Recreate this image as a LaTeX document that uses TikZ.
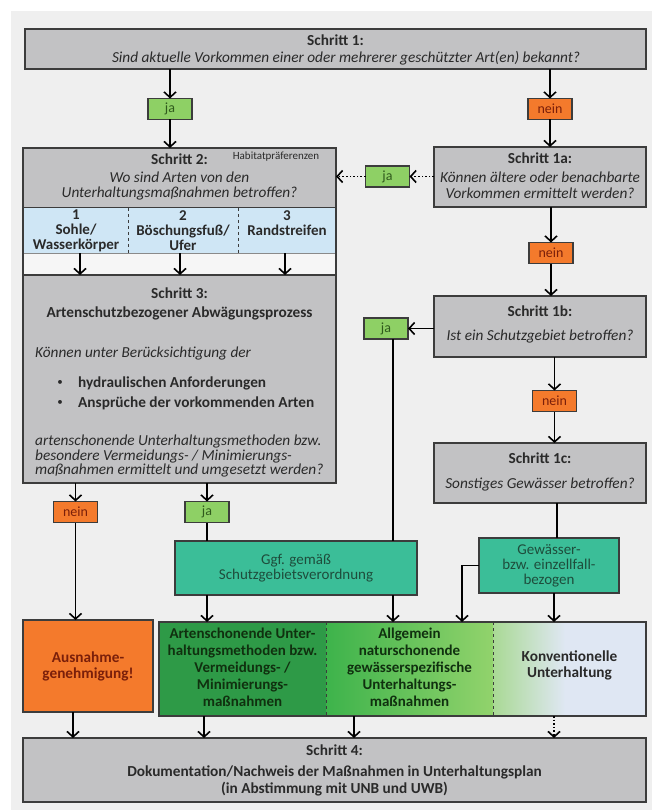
\documentclass[tikz,border=0pt]{standalone}
\usepackage{fontspec}
\setmainfont{Carlito}
\usetikzlibrary{arrows.meta,calc}
\definecolor{panel}{HTML}{EFEFEF}
\definecolor{gboxc}{HTML}{C2C2C4}
\definecolor{edge}{HTML}{3C3C3C}
\definecolor{txt}{HTML}{2A2A2A}
\definecolor{bluecell}{HTML}{CFE6F5}
\definecolor{whiterow}{HTML}{F6F6F6}
\definecolor{jagreen}{HTML}{8ED065}
\definecolor{jatxt}{HTML}{2F5A1C}
\definecolor{neinor}{HTML}{F47A2C}
\definecolor{neintxt}{HTML}{7A1F0A}
\definecolor{tealbox}{HTML}{3BBE98}
\definecolor{tealtxt}{HTML}{1E4D3C}
\definecolor{dkgreen}{HTML}{2E9A47}
\definecolor{mdgreen}{HTML}{3DB34B}
\definecolor{ltgreen}{HTML}{92D36C}
\definecolor{paleblue}{HTML}{DFE7F3}
\definecolor{greentxt}{HTML}{10300F}
\begin{document}
\begin{tikzpicture}[x=1pt,y=-1pt,
  box/.style={draw=edge, line width=1.2pt, inner sep=0pt, outer sep=0pt},
  gbox/.style={box, fill=gboxc},
  ttl/.style={font=\fontsize{15.3}{16}\selectfont\bfseries, text=txt, inner sep=0pt, align=center},
  qst/.style={font=\fontsize{15.3}{15}\selectfont\itshape, text=txt, inner sep=0pt, align=center},
  yn/.style={box, minimum width=44pt, minimum height=21pt, font=\fontsize{14}{14}\selectfont},
  jabox/.style={yn, fill=jagreen, text=jatxt},
  neinbox/.style={yn, fill=neinor, text=neintxt},
  tbox/.style={box, fill=tealbox, text=tealtxt, font=\fontsize{15}{15}\selectfont, align=center},
  arr/.style={draw=black, line width=1.6pt, -{Straight Barb[length=5.5pt,width=12pt]}},
  darr/.style={arr, dotted},
  ln/.style={draw=black, line width=1.6pt}
]
\useasboundingbox (0,0) rectangle (655,810);
\fill[white] (0,0) rectangle (655,810);
\fill[panel] (11,11) rectangle (652,810);

% x positions
\coordinate (xa) at (73,0);
\coordinate (xb) at (207,0);
\coordinate (xc) at (393,0);
\coordinate (xd) at (462,0);
\coordinate (xe) at (554,0);
\coordinate (xf) at (557,0);
\coordinate (xr) at (551,0);
\coordinate (xg) at (204,0);
\coordinate (xh) at (354,0);
\coordinate (xk1) at (80,0);
\coordinate (xk2) at (180,0);
\coordinate (xk3) at (285,0);

% Schritt 1
\node[gbox, minimum width=621pt, minimum height=40pt] (s1) at (335.5,49) {};
\node[ttl] (s1t) at (335.5,40) {Schritt 1:};
\node[qst] (s1q) at (346,58) {Sind aktuelle Vorkommen einer oder mehrerer geschützter Art(en) bekannt?};
\node[jabox] (ja1) at (170,109) {ja};
\node[neinbox] (nein1) at (550,109) {nein};

% Schritt 2 / 3 composite
\node[gbox, minimum width=313pt, minimum height=60pt] (s2) at (179.5,178) {};
\node[ttl] (s2t) at (179.5,159) {Schritt 2:};
\node[font=\fontsize{11}{11}\selectfont, text=txt, inner sep=0pt] (hab) at (276,157) {Habitatpräferenzen};
\node[qst] (s2q) at (179.5,186) {Wo sind Arten von den\\Unterhaltungsmaßnahmen betroffen?};
\node[fill=bluecell, minimum width=105pt, minimum height=45pt, inner sep=0pt] (c1) at (75.5,230.5) {};
\node[fill=bluecell, minimum width=110pt, minimum height=45pt, inner sep=0pt] (c2) at (183,230.5) {};
\node[fill=bluecell, minimum width=98pt, minimum height=45pt, inner sep=0pt] (c3) at (287,230.5) {};
\node[ttl, font=\fontsize{15}{15}\selectfont\bfseries] (c1t) at (76,231) {1\\Sohle/\\Wasserkörper};
\node[ttl, font=\fontsize{15}{15}\selectfont\bfseries] (c2t) at (183,231) {2\\Böschungsfuß/\\Ufer};
\node[ttl, font=\fontsize{15}{15}\selectfont\bfseries, anchor=north] (c3t) at (287,210) {3\\Randstreifen};
\node[fill=whiterow, minimum width=313pt, minimum height=22pt, inner sep=0pt] (wr) at (179.5,264) {};
\node[gbox, minimum width=313pt, minimum height=208pt] (s3) at (179.5,379) {};
\draw[edge, line width=0.6pt, dashed] (c1.north east) -- (c1.south east);
\draw[edge, line width=0.6pt, dashed] (c2.north east) -- (c2.south east);
\draw[edge!60, line width=0.5pt] (c1.south west) -- (c3.south east);
\draw[edge, line width=1.2pt] (s2.north west) rectangle (s3.south east);
\draw[arr] (c1.south -| xk1) -- (s3.north -| xk1);
\draw[arr] (c2.south -| xk2) -- (s3.north -| xk2);
\draw[arr] (c3.south -| xk3) -- (s3.north -| xk3);

\node[ttl] (s3t) at (179.5,293) {Schritt 3:};
\node[ttl] (s3s) at (179.5,313) {Artenschutzbezogener Abwägungsprozess};
\node[qst, anchor=west] (s3q) at (35,353) {Können unter Berücksichtigung der};
\node[text=txt, inner sep=0pt, font=\fontsize{11}{11}\selectfont] (b1d) at (60,383) {•};
\node[ttl, anchor=west] (b1) at (78,383) {hydraulischen Anforderungen};
\node[text=txt, inner sep=0pt, font=\fontsize{11}{11}\selectfont] (b2d) at (60,403) {•};
\node[ttl, anchor=west] (b2) at (78,403) {Ansprüche der vorkommenden Arten};
\node[qst, anchor=west, align=left, font=\fontsize{15.3}{14.5}\selectfont\itshape] (s3p) at (35,456) {artenschonende Unterhaltungsmethoden bzw.\\besondere Vermeidungs- / Minimierungs-\\maßnahmen ermittelt und umgesetzt werden?};

% right column
\node[gbox, minimum width=212pt, minimum height=60pt] (s1a) at (540,177) {};
\node[ttl] (s1at) at (540,158) {Schritt 1a:};
\node[qst, font=\fontsize{15.3}{16}\selectfont\itshape] (s1aq) at (540,185) {Können ältere oder benachbarte\\Vorkommen ermittelt werden?};
\node[jabox] (ja2) at (387.5,176.5) {ja};
\node[neinbox] (nein2) at (551,253) {nein};
\node[gbox, minimum width=212pt, minimum height=61pt] (s1b) at (540,326.5) {};
\node[ttl] (s1bt) at (540,311) {Schritt 1b:};
\node[qst] (s1bq) at (540,336) {Ist ein Schutzgebiet betroffen?};
\node[jabox] (ja3) at (386,328.5) {ja};
\node[neinbox] (nein3) at (554.5,401) {nein};
\node[gbox, minimum width=212pt, minimum height=60pt] (s1c) at (540,473) {};
\node[ttl] (s1ct) at (540,458) {Schritt 1c:};
\node[qst] (s1cq) at (540,484) {Sonstiges Gewässer betroffen?};

% lower middle
\node[neinbox] (nein4) at (75.5,512) {nein};
\node[jabox] (ja4) at (207,512) {ja};
\node[tbox, minimum width=242pt, minimum height=54pt] (ggf) at (296,568) {Ggf. gemäß\\Schutzgebietsverordnung};
\node[tbox, minimum width=140pt, minimum height=55pt] (gew) at (549,565.5) {Gewässer-\\bzw. einzellfall-\\bezogen};

% bottom boxes
\node[box, fill=neinor, minimum width=130pt, minimum height=92pt, text=neintxt, font=\fontsize{15.3}{16}\selectfont\bfseries, align=center] (aus) at (88,666) {Ausnahme-\\genehmigung!};
\fill[dkgreen] (159,622) rectangle (326,716);
\shade[left color=mdgreen, right color=ltgreen] (326,622) rectangle (493,716);
\shade[left color=ltgreen!70!paleblue, right color=paleblue] (493,622) rectangle (565,716);
\fill[paleblue] (565,622) rectangle (646,716);
\node[box, minimum width=487pt, minimum height=94pt] (grn) at (402.5,669) {};
\draw[edge, line width=0.7pt, dashed] (326,622) -- (326,716);
\draw[edge, line width=0.7pt, dashed] (493,622) -- (493,716);
\node[ttl, text=greentxt, font=\fontsize{15}{17}\selectfont\bfseries] (g1) at (242.5,667) {Artenschonende Unter-\\haltungsmethoden bzw.\\Vermeidungs- /\\Minimierungs-\\maßnahmen};
\node[ttl, text=greentxt, font=\fontsize{15}{17}\selectfont\bfseries] (g2) at (409.5,667) {Allgemein\\naturschonende\\gewässerspezifische\\Unterhaltungs-\\maßnahmen};
\node[ttl, font=\fontsize{15.3}{16}\selectfont\bfseries] (g3) at (569.5,665) {Konventionelle\\Unterhaltung};

% Schritt 4
\node[gbox, minimum width=623pt, minimum height=64pt] (s4) at (334.5,770) {};
\node[ttl] (s4t) at (334.5,750) {Schritt 4:};
\node[ttl, font=\fontsize{15.3}{17}\selectfont\bfseries] (s4d) at (334.5,781) {Dokumentation/Nachweis der Maßnahmen in Unterhaltungsplan\\(in Abstimmung mit UNB und UWB)};

% connectors
\draw[arr] (s1.south -| ja1) -- (ja1.north);
\draw[arr] (ja1.south) -- (s2.north -| ja1);
\draw[arr] (s1.south -| nein1) -- (nein1.north);
\draw[arr] (nein1.south) -- (s1a.north -| nein1);
\draw[darr] (s1a.west |- ja2) -- (ja2.east);
\draw[darr] (ja2.west) -- (s2.east |- ja2);
\draw[arr] (s1a.south -| xr) -- (nein2.north -| xr);
\draw[arr] (nein2.south -| xr) -- (s1b.north -| xr);
\draw[arr] (s1b.west |- ja3) -- (ja3.east);
\draw[ln] (ja3.south -| xc) -- (ggf.north -| xc);
\draw[arr] (s1b.south -| nein3) -- (nein3.north);
\draw[arr] (nein3.south) -- (s1c.north -| nein3);
\draw[ln] (s1c.south -| xf) -- (gew.north -| xf);
\draw[arr] (s3.south -| nein4) -- (nein4.north);
\draw[arr] (nein4.south) -- (aus.north -| nein4);
\draw[arr] (s3.south -| ja4) -- (ja4.north);
\draw[ln] (ja4.south) -- (ggf.north -| ja4);
\draw[arr] (ggf.south -| xb) -- (grn.north -| xb);
\draw[arr] (ggf.south -| xc) -- (grn.north -| xc);
\draw[arr] (gew.west) -| (grn.north -| xd);
\draw[arr] (gew.south -| xe) -- (grn.north -| xe);
\draw[arr] (aus.south -| xa) -- (s4.north -| xa);
\draw[arr] (grn.south -| xg) -- (s4.north -| xg);
\draw[arr] (grn.south -| xh) -- (s4.north -| xh);
\draw[darr] (grn.south -| xe) -- (s4.north -| xe);
\end{tikzpicture}
\end{document}
